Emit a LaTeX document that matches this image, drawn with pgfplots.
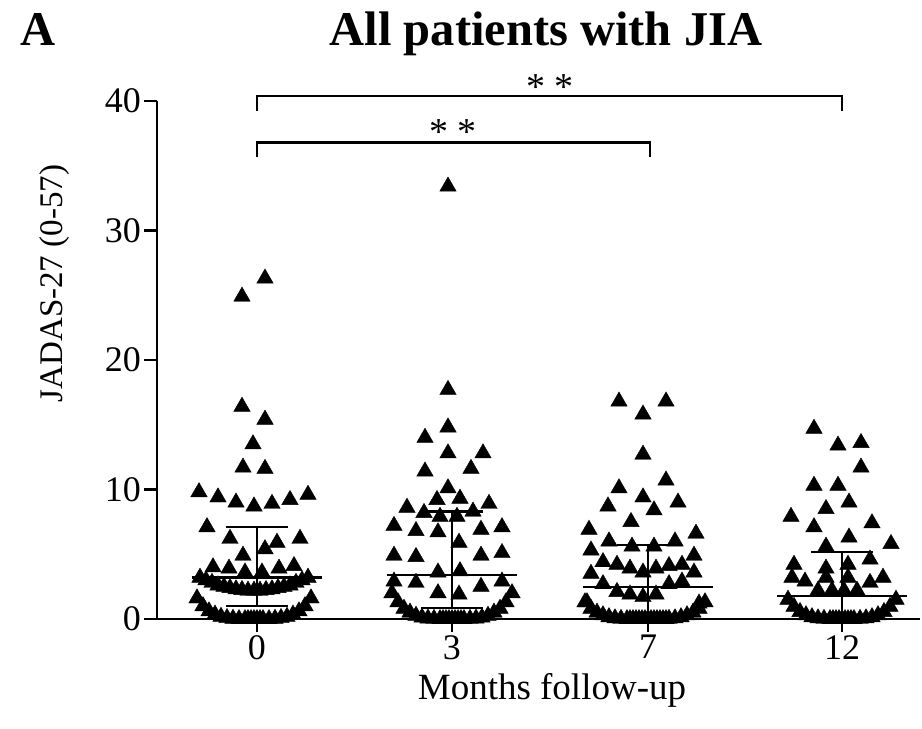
\documentclass[border=0pt]{standalone}
\usepackage{pgfplots}
\pgfplotsset{compat=1.18}
\usepackage{fontspec}
\setmainfont{Liberation Serif}

\begin{document}
\begin{tikzpicture}
\begin{axis}[
 name=ax,
 scale only axis, width=763pt, height=518pt,
 xmin=157, xmax=920, ymin=0, ymax=40,
 axis x line*=bottom, axis y line*=left,
 axis line style={line width=2.2pt},
 xtick={257,452,648,842}, xticklabels={0,3,7,12},
 ytick={0,10,20,30,40},
 tick align=outside, major tick length=13pt,
 tick style={line width=2.2pt, black},
 tick label style={font=\fontsize{36}{40}\selectfont, inner sep=3pt},
 /pgf/number format/assume math mode=true,
 xlabel={Months follow-up}, ylabel={JADAS-27 (0-57)},
 xlabel style={font=\fontsize{37}{40}\selectfont, at={(axis cs:552,-5.5)}, anchor=center},
 ylabel style={font=\fontsize{33}{36}\selectfont, at={(axis cs:55,25.9)}, anchor=center},
 clip=false,
]
% month 0
\addplot[only marks, mark=triangle*, mark size=9.5pt, black] coordinates {
(265,26.3)(242,24.9)(242,16.4)(265,15.4)(253,13.5)(243,11.7)(265,11.6)
(199,9.8)(218,9.4)(236,9.0)(254,8.7)(272,8.9)(290,9.2)(308,9.6)
(207,7.1)(230,6.2)(277,5.9)(300,6.2)(265,5.4)(243,4.9)
(213,4.0)(229,3.9)(245,3.6)(262,3.6)(279,3.9)(294,4.1)
(200,3.2)(206,3.0)(212,2.8)(218,2.6)(224,2.5)(230,2.4)(236,2.3)(242,2.25)(248,2.2)(254,2.2)
(260,2.2)(266,2.25)(272,2.3)(278,2.4)(284,2.5)(290,2.6)(296,2.8)(302,3.0)(308,3.2)
(197,1.6)(203,1.0)(209,0.6)(215,0.35)(221,0.18)(227,0.08)(233,0.03)(239,0)(245,0)(251,0)
(257,0)(263,0)(269,0)(275,0.03)(281,0.08)(287,0.18)(293,0.35)(299,0.6)(305,1.0)(311,1.6)
(248,0)(254,0)(260,0)
};
% month 3
\addplot[only marks, mark=triangle*, mark size=9.5pt, black] coordinates {
(448,33.4)(448,17.7)(448,14.8)(425,14.0)(448,12.8)(483,12.8)(425,11.4)(471,11.6)
(448,10.1)(437,9.2)(460,9.3)(407,8.6)(489,8.9)(424,8.2)(473,8.3)(440,7.9)(457,7.9)
(394,7.2)(416,6.8)(438,6.7)(481,6.9)(502,7.1)(459,5.9)
(394,4.9)(416,4.8)(481,4.9)(502,5.1)(438,3.6)(460,3.7)
(394,2.9)(416,2.8)(502,2.9)(481,2.5)(438,2.0)(459,1.9)
(392,2.0)(398,1.3)(404,0.8)(410,0.5)(416,0.26)(422,0.12)(428,0.05)(434,0.02)(440,0)(446,0)
(452,0)(458,0)(464,0)(470,0.02)(476,0.05)(482,0.12)(488,0.26)(494,0.5)(500,0.8)(506,1.3)(512,2.0)
(443,0)(449,0)(455,0)(461,0)
};
% month 7
\addplot[only marks, mark=triangle*, mark size=9.5pt, black] coordinates {
(619,16.8)(666,16.8)(643,15.8)(643,12.7)(666,10.7)(619,10.1)(643,9.4)(678,9.0)
(608,8.7)(654,8.4)(631,7.5)(589,6.9)(696,6.6)(609,6.0)(675,6.0)(632,5.6)(654,5.6)
(591,5.3)(694,4.9)(603,4.4)(617,4.2)(630,3.9)(643,3.6)(656,3.9)(669,4.1)(682,4.2)
(591,3.5)(694,3.6)(603,2.7)(669,2.7)(682,2.9)(617,2.1)(630,1.9)(643,1.7)(656,1.9)
(587,1.3)(699,1.2)
(585,1.3)(591,0.8)(597,0.5)(603,0.3)(609,0.15)(615,0.06)(621,0.02)(627,0)(633,0)(639,0)
(645,0)(651,0)(657,0)(663,0)(669,0.02)(675,0.06)(681,0.15)(687,0.3)(693,0.5)(699,0.8)(705,1.3)
(630,0)(636,0)(642,0)(648,0)(654,0)(660,0)(666,0)
};
% month 12
\addplot[only marks, mark=triangle*, mark size=9.5pt, black] coordinates {
(814,14.7)(838,13.4)(861,13.6)(861,11.7)(814,10.3)(838,10.3)(849,9.0)(826,8.5)
(791,7.9)(872,7.4)(814,7.1)(849,6.3)(891,5.8)(826,5.6)(870,4.6)
(794,4.2)(826,3.9)(848,4.2)(792,3.2)(805,2.9)(826,3.2)(848,3.2)(870,2.8)(883,3.2)
(818,2.2)(832,2.2)(844,2.2)(857,2.2)
(788,1.5)(794,0.95)(800,0.55)(806,0.3)(812,0.15)(818,0.06)(824,0.02)(830,0)(836,0)(842,0)
(848,0)(854,0)(860,0.02)(866,0.06)(872,0.15)(878,0.3)(884,0.55)(890,0.95)(896,1.5)
(833,0)(839,0)(845,0)(851,0)
};
% medians and interquartile ranges
\addplot[black, line width=2.2pt] coordinates {(192,3.2)(322,3.2)};
\addplot[black, line width=2.2pt] coordinates {(226,7.1)(288,7.1)};
\addplot[black, line width=2.2pt] coordinates {(226,1.0)(288,1.0)};
\addplot[black, line width=2.2pt] coordinates {(257,1.0)(257,7.1)};
\addplot[black, line width=2.2pt] coordinates {(387,3.4)(517,3.4)};
\addplot[black, line width=2.2pt] coordinates {(421,8.3)(483,8.3)};
\addplot[black, line width=2.2pt] coordinates {(421,0.85)(483,0.85)};
\addplot[black, line width=2.2pt] coordinates {(452,0.85)(452,8.3)};
\addplot[black, line width=2.2pt] coordinates {(583,2.5)(713,2.5)};
\addplot[black, line width=2.2pt] coordinates {(617,5.7)(679,5.7)};
\addplot[black, line width=2.2pt] coordinates {(648,0)(648,5.7)};
\addplot[black, line width=2.2pt] coordinates {(777,1.8)(907,1.8)};
\addplot[black, line width=2.2pt] coordinates {(811,5.2)(873,5.2)};
\addplot[black, line width=2.2pt] coordinates {(842,0)(842,5.2)};
% significance brackets
\addplot[black, line width=2.2pt] coordinates {(257,39.2)(257,40.4)(842,40.4)(842,39.2)};
\addplot[black, line width=2.2pt] coordinates {(257,35.7)(257,36.8)(650,36.8)(650,35.7)};
\node[font=\fontsize{38}{40}\selectfont] at (axis cs:550,41.1) {* *};
\node[font=\fontsize{38}{40}\selectfont] at (axis cs:453,37.6) {* *};
% titles
\node[font=\bfseries\fontsize{48.5}{52}\selectfont, anchor=base] at (axis cs:546,44.3) {All patients with JIA};
\node[font=\bfseries\fontsize{48.5}{52}\selectfont, anchor=base] at (axis cs:38,44.3) {A};
\end{axis}
\pgfresetboundingbox
\path ([shift={(-157pt,-110pt)}]ax.south west) rectangle ([shift={(2pt,101pt)}]ax.north east);
\end{tikzpicture}
\end{document}
